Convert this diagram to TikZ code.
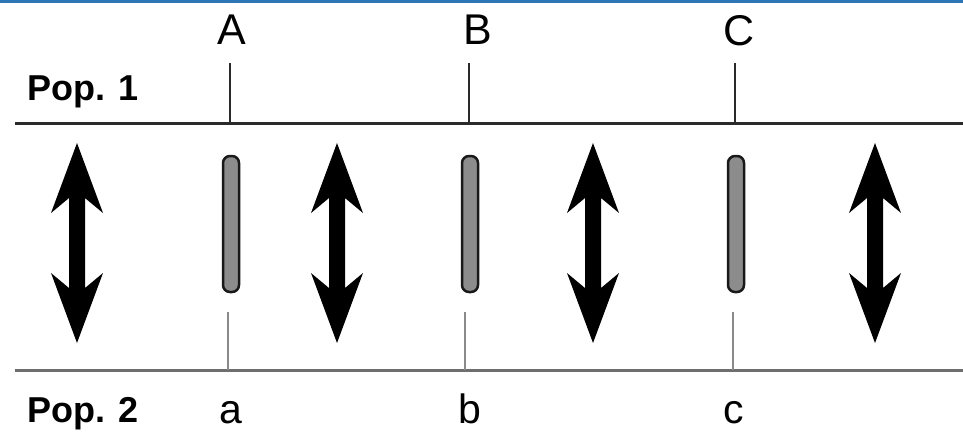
\documentclass[tikz,border=0pt]{standalone}
\usepackage{fontspec}
\setmainfont{Liberation Sans}
\definecolor{topblue}{HTML}{2E75B6}
\definecolor{lineup}{HTML}{2A2A2A}
\definecolor{linedown}{HTML}{6E6E6E}
\definecolor{tickdown}{HTML}{8A8A8A}
\definecolor{rodfill}{HTML}{8C8C8C}
\begin{document}
\begin{tikzpicture}[x=1pt,y=-1pt,
  poplabel/.style={font=\fontsize{36}{40}\selectfont\bfseries, inner sep=0pt},
  locus/.style={font=\fontsize{43}{50}\selectfont, inner sep=0pt, anchor=base, text depth=0pt},
  smalllocus/.style={font=\fontsize{41}{48}\selectfont, inner sep=0pt, anchor=base, text depth=0pt},
  upline/.style={draw=lineup, line width=3pt},
  downline/.style={draw=linedown, line width=3pt},
  uptick/.style={draw=lineup, line width=2pt},
  downtick/.style={draw=tickdown, line width=2.5pt},
  rod/.style={draw=black!90, fill=rodfill, line width=2.5pt, minimum width=16pt, minimum height=136pt, rounded corners=7pt, inner sep=0pt},
  dblarrow/.pic={\fill[black] (0,-100) -- (26,-30) -- (8,-45) -- (8,45) -- (26,30) -- (0,100) -- (-26,30) -- (-8,45) -- (-8,-45) -- (-26,-30) -- cycle;}
]
\useasboundingbox (0,0) rectangle (963,432);
\fill[topblue] (0,0) rectangle (963,2.5);
% population lines
\coordinate (L1w) at (15,123); \coordinate (L1e) at (963,123);
\coordinate (L2w) at (15,370); \coordinate (L2e) at (963,370);
\draw[upline] (L1w) -- (L1e);
\draw[downline] (L2w) -- (L2e);
% labels
\node[poplabel, anchor=base west] (pop1) at (27,100) {Pop. 1};
\node[poplabel, anchor=base west] (pop2) at (27,422) {Pop. 2};
\node[locus] (A) at (232,44) {A};
\node[locus] (B) at (478,44) {B};
\node[locus] (C) at (739,45) {C};
\node[smalllocus] (a) at (231,423) {a};
\node[smalllocus] (b) at (470,423) {b};
\node[smalllocus] (c) at (734,423) {c};
% ticks
\coordinate (tA) at (230,63); \coordinate (tB) at (469,63); \coordinate (tC) at (735,63);
\coordinate (ta) at (228,312); \coordinate (tb) at (465,312); \coordinate (tc) at (733,312);
\draw[uptick] (tA) -- (tA |- L1w);
\draw[uptick] (tB) -- (tB |- L1w);
\draw[uptick] (tC) -- (tC |- L1w);
\draw[downtick] (ta) -- (ta |- L2w);
\draw[downtick] (tb) -- (tb |- L2w);
\draw[downtick] (tc) -- (tc |- L2w);
% rods
\node[rod] (rodA) at (231,224) {};
\node[rod] (rodB) at (470,224) {};
\node[rod] (rodC) at (736,224) {};
% double arrows
\pic at (77,243) {dblarrow};
\pic at (337,243) {dblarrow};
\pic at (593,243) {dblarrow};
\pic at (875,243) {dblarrow};
\end{tikzpicture}
\end{document}
